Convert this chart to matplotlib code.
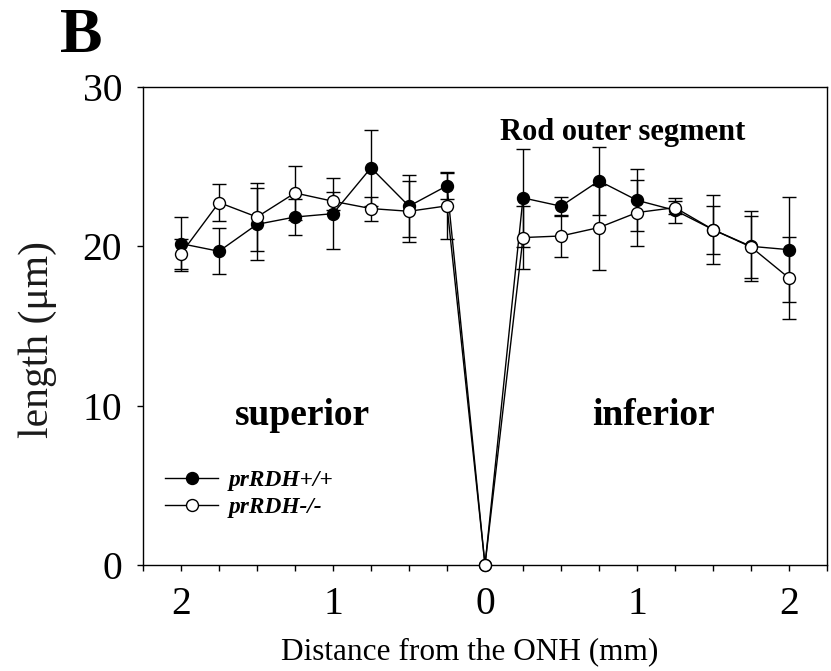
import numpy as np
import matplotlib
matplotlib.use("Agg")
import matplotlib.pyplot as plt
from matplotlib.ticker import MultipleLocator, FixedLocator, FixedFormatter

# ---- data ----
distance = [-2, -1.75, -1.5, -1.25, -1, -0.75, -0.5, -0.25, 0,
            0.25, 0.5, 0.75, 1, 1.25, 1.5, 1.75, 2]
wt_mean = [20.17, 19.69, 21.38, 21.84, 22.05, 24.93, 22.52, 23.80, 0,
           23.04, 22.52, 24.11, 22.89, 22.26, 21.05, 20.00, 19.79]
wt_err = [1.70, 1.45, 2.25, 1.15, 2.24, 2.40, 1.95, 0.85, 0,
          3.10, 0.60, 2.14, 1.95, 0.80, 2.15, 2.20, 3.30]
ko_mean = [19.54, 22.75, 21.84, 23.35, 22.83, 22.37, 22.20, 22.54, 0,
           20.55, 20.65, 21.18, 22.12, 22.43, 21.05, 19.96, 18.01]
ko_err = [0.95, 1.14, 2.15, 1.68, 0.55, 0.75, 1.90, 2.05, 0,
          2.00, 1.30, 2.69, 2.07, 0.40, 1.50, 1.95, 2.55]
x_major = [-2, -1, 0, 1, 2]
x_major_labels = ["2", "1", "0", "1", "2"]
y_ticks = [0, 10, 20, 30]
series_labels = ["prRDH+/+", "prRDH-/-"]

plt.rcParams['font.family'] = ['Liberation Serif', 'DejaVu Serif']

W, H = 831, 671
fig = plt.figure(figsize=(W / 100, H / 100), dpi=100)
ax = fig.add_axes([143 / W, 1 - 565 / H, (827 - 143) / W, (565 - 87) / H])

x = np.array(distance)
wm, we = np.array(wt_mean), np.array(wt_err)
km, ke = np.array(ko_mean), np.array(ko_err)

mw = we > 0
mk = ke > 0
ax.errorbar(x[mw], wm[mw], yerr=we[mw], fmt='none', ecolor='black',
            elinewidth=1.0, capsize=4.7, capthick=1.0, zorder=2)
ax.errorbar(x[mk], km[mk], yerr=ke[mk], fmt='none', ecolor='black',
            elinewidth=1.0, capsize=4.7, capthick=1.0, zorder=2)

ax.plot(x, wm, '-o', color='black', lw=1.0, ms=8.6, mfc='black',
        mec='black', mew=1.0, zorder=5, label=series_labels[0], clip_on=False)
ax.plot(x, km, '-o', color='black', lw=1.0, ms=8.6, mfc='white',
        mec='black', mew=1.0, zorder=6, label=series_labels[1], clip_on=False)

ax.set_xlim(-2.25, 2.25)
ax.set_ylim(0, 30)
ax.xaxis.set_major_locator(FixedLocator(x_major))
ax.xaxis.set_major_formatter(FixedFormatter(x_major_labels))
ax.xaxis.set_minor_locator(MultipleLocator(0.25))
ax.set_yticks(y_ticks)
ax.tick_params(axis='both', which='both', direction='out', length=4.5,
               width=1.0, labelsize=28.5, pad=10.5, color='black')
ax.tick_params(axis='y', which='minor', length=0)
for s in ax.spines.values():
    s.set_linewidth(1.0)
    s.set_color('black')

# annotations
ax.text(-1.204, 8.79, "superior", fontsize=27, fontweight='bold',
        ha='center', va='baseline')
ax.text(1.105, 8.79, "inferior", fontsize=27, fontweight='bold',
        ha='center', va='baseline')
ax.text(0.905, 26.68, "Rod outer segment", fontsize=22, fontweight='bold',
        ha='center', va='baseline')

leg = ax.legend(loc='upper left', bbox_to_anchor=(165 / W, 1 - 470 / H),
                bbox_transform=fig.transFigure, frameon=False,
                prop={'size': 16.8, 'weight': 'bold', 'style': 'italic'},
                handlelength=2.28, handletextpad=0.43, labelspacing=0.24,
                borderpad=0, borderaxespad=0, numpoints=1)

fig.text(60 / W, 1 - 52 / H, "B", fontsize=46, fontweight='bold',
         ha='left', va='baseline')
fig.text(37.5 / W, 1 - 340 / H, "length (μm)", fontsize=30, rotation=90,
         ha='center', va='center', color='#1a1a1a')
fig.text(470 / W, 1 - 659 / H, "Distance from the ONH (mm)", fontsize=22.5,
         ha='center', va='baseline')

fig.savefig("out.png", dpi=100)
